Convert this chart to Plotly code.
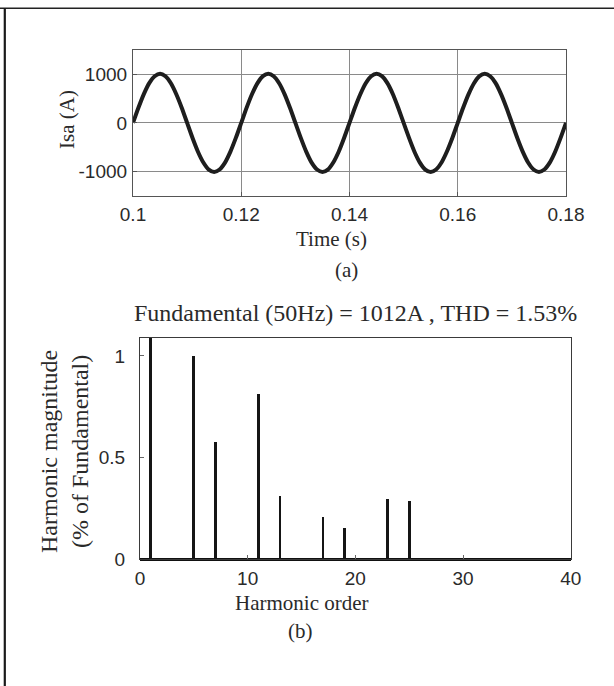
import plotly.graph_objects as go

# ---- data ----
time_s = [round(0.100 + 0.001 * k, 3) for k in range(81)]
isa_a = [
    0, 310, 592, 818, 960, 1012, 958, 815, 590, 312,
    0, -312, -594, -816, -962, -1010, -960, -818, -592, -310,
    0, 314, 594, 818, 962, 1012, 960, 816, 592, 310,
    0, -310, -592, -818, -960, -1010, -962, -816, -594, -312,
    0, 312, 590, 816, 960, 1012, 962, 818, 594, 310,
    0, -310, -594, -818, -962, -1012, -960, -816, -590, -312,
    0, 310, 592, 816, 962, 1012, 960, 818, 592, 312,
    0, -312, -592, -816, -960, -1010, -960, -818, -594, -310,
    0,
]
harm_order = [1, 5, 7, 11, 13, 17, 19, 23, 25]
harm_mag = [100.0, 1.00, 0.577, 0.816, 0.313, 0.207, 0.153, 0.295, 0.288]

xt_a = [0.10, 0.12, 0.14, 0.16, 0.18]
xt_a_lbl = ["0.1", "0.12", "0.14", "0.16", "0.18"]
yt_a = [-1000, 0, 1000]
yt_a_lbl = ["-1000", "0", "1000"]
xt_b = [0, 10, 20, 30, 40]
yt_b = [0, 0.5, 1]
yt_b_lbl = ["0", "0.5", "1"]

W, H = 614, 686
SERIF = "Liberation Serif"
SANS = "Liberation Sans"
TXT = "#2a2a2a"

def px(x):
    return x / W

def py(y):
    return 1 - y / H

fig = go.Figure()
fig.add_trace(go.Scatter(
    x=time_s, y=isa_a, mode="lines",
    line=dict(color="#1e1e1e", width=4, shape="spline", smoothing=0.6),
    xaxis="x", yaxis="y", showlegend=False, hoverinfo="skip"))
fig.add_trace(go.Bar(
    x=harm_order, y=harm_mag, width=0.25,
    marker=dict(color="#151515", line=dict(width=0)),
    xaxis="x2", yaxis="y2", showlegend=False, hoverinfo="skip"))

tickfont = dict(family=SANS, size=19, color=TXT)

fig.update_layout(
    width=W, height=H,
    margin=dict(l=0, r=0, t=0, b=0),
    paper_bgcolor="white", plot_bgcolor="white",
    xaxis=dict(domain=[px(133), px(566)], anchor="y", range=[0.1, 0.18],
               tickvals=xt_a, ticktext=xt_a_lbl, tickfont=tickfont,
               showgrid=True, gridcolor="#8a8a8a", gridwidth=1,
               showline=True, linecolor="#555555", linewidth=1.2, mirror=True,
               ticks="inside", ticklen=4, tickcolor="#555555",
               zeroline=False, ticklabelstandoff=1, automargin=False),
    yaxis=dict(domain=[py(195.7), py(50)], anchor="x", range=[-1500, 1500],
               tickvals=yt_a, ticktext=yt_a_lbl, tickfont=tickfont,
               showgrid=True, gridcolor="#8a8a8a", gridwidth=1,
               showline=True, linecolor="#555555", linewidth=1.2, mirror=True,
               ticks="inside", ticklen=4, tickcolor="#555555",
               zeroline=False, ticklabelstandoff=1, automargin=False),
    xaxis2=dict(domain=[px(140), px(570.7)], anchor="y2", range=[0, 40],
                tickvals=xt_b, tickfont=tickfont, showgrid=False,
                showline=True, linecolor="#3a3a3a", linewidth=1.2, mirror=True,
                ticks="inside", ticklen=4, tickcolor="#666666",
                zeroline=False, ticklabelstandoff=2, automargin=False),
    yaxis2=dict(domain=[py(559), py(337.7)], anchor="x2", range=[0, 1.09],
                tickvals=yt_b, ticktext=yt_b_lbl, tickfont=tickfont, showgrid=False,
                showline=True, linecolor="#3a3a3a", linewidth=1.2, mirror=True,
                ticks="inside", ticklen=4, tickcolor="#666666",
                zeroline=True, zerolinecolor="#111111", zerolinewidth=2.5,
                ticklabelstandoff=10, automargin=False),
    bargap=0,
)

def ann(text, x, y, size, angle=0):
    fig.add_annotation(text=text, x=px(x), y=py(y), xref="paper", yref="paper",
                       showarrow=False, textangle=angle, xanchor="center", yanchor="middle",
                       font=dict(family=SERIF, size=size, color=TXT))

ann("Isa (A)", 67, 120, 21, -90)
ann("Time (s)", 331, 239, 21)
ann("(a)", 346, 270, 21)
ann("Fundamental (50Hz) = 1012A , THD = 1.53%", 355, 313, 24)
ann("Harmonic magnitude<br>(% of Fundamental)", 64, 452, 24, -90)
ann("Harmonic order", 302, 603, 21)
ann("(b)", 300, 631, 21)

# outer frame (top and left edges)
fig.add_shape(type="line", xref="paper", yref="paper", x0=0, x1=1, y0=py(8.3), y1=py(8.3),
              line=dict(color="#222222", width=1.6))
fig.add_shape(type="line", xref="paper", yref="paper", x0=px(4.8), x1=px(4.8), y0=0, y1=py(8.3),
              line=dict(color="#1a1a1a", width=2.2))

fig.write_html("out.html")
